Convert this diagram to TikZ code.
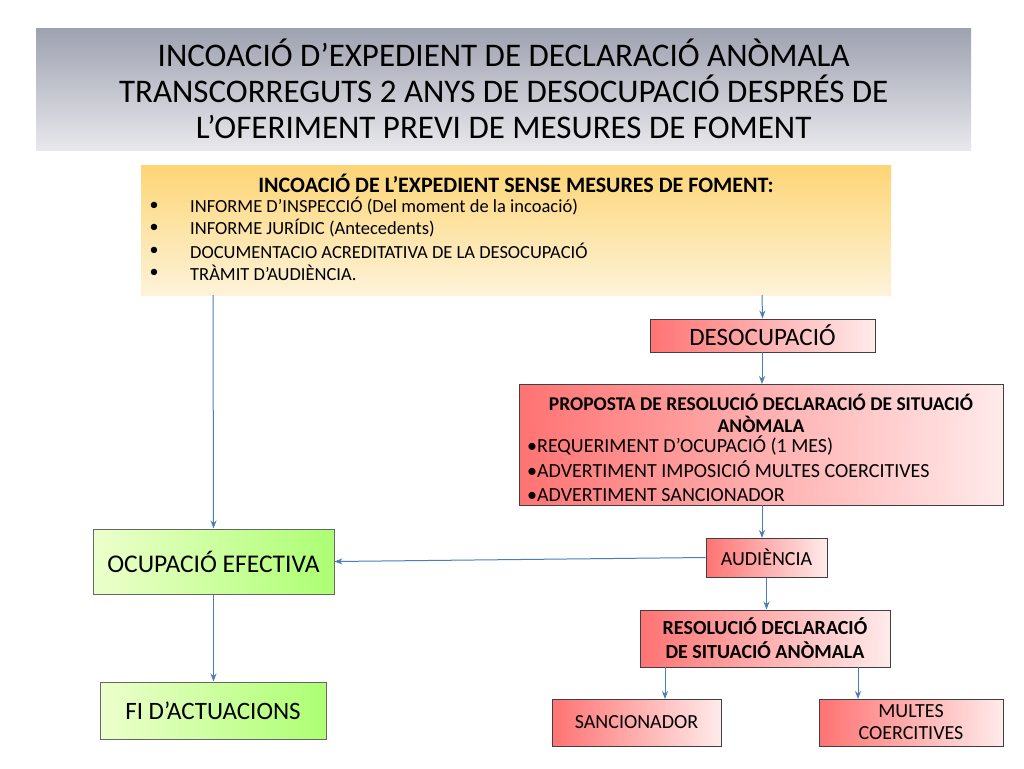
\documentclass[tikz,border=0pt]{standalone}
\usepackage{fontspec}
\setmainfont{Carlito}
\usetikzlibrary{arrows.meta}
\definecolor{arrc}{RGB}{74,126,187}
\definecolor{tgray}{RGB}{158,162,176}
\definecolor{tlight}{RGB}{232,232,236}
\definecolor{ytop}{RGB}{253,213,118}
\definecolor{ybot}{RGB}{253,243,217}
\begin{document}
\begin{tikzpicture}[x=1pt,y=-1pt,
  redbox/.style={draw=black!75,line width=1pt,left color=red!55,right color=red!8,inner sep=2pt,align=center},
  greenbox/.style={draw=black!60,line width=1pt,left color=green!15!lime!20,right color=green!45!lime!55,align=left},
  arr/.style={draw=arrc,line width=1pt,-{Stealth[length=8pt,width=6pt]}}]
\useasboundingbox (0,0) rectangle (1024,768);
\fill[white] (0,0) rectangle (1024,768);
\node (title) [minimum width=935,minimum height=122,anchor=north west,top color=tgray,bottom color=tlight,inner sep=0,align=center,font=\fontsize{33}{36}\selectfont] at (36,28) {INCOACIÓ D’EXPEDIENT DE DECLARACIÓ ANÒMALA\\TRANSCORREGUTS 2 ANYS DE DESOCUPACIÓ DESPRÉS DE\\L’OFERIMENT PREVI DE MESURES DE FOMENT};
\node (yel) [minimum width=750,minimum height=130,anchor=north west,top color=ytop,bottom color=ybot,inner sep=0] at (141,165) {};
\node[font=\bfseries\fontsize{22}{24}\selectfont] at (516,183) {INCOACIÓ DE L’EXPEDIENT SENSE MESURES DE FOMENT:};
\foreach \y/\t in {206/{INFORME D’INSPECCIÓ (Del moment de la incoació)},228/{INFORME JURÍDIC (Antecedents)},251/{DOCUMENTACIO ACREDITATIVA DE LA DESOCUPACIÓ},273/{TRÀMIT D’AUDIÈNCIA.}}{
  \node[font=\fontsize{18}{20}\selectfont] at (154,\y) {•};
  \node[anchor=west,font=\fontsize{18.5}{20}\selectfont,inner sep=0] at (190,\y) {\t};}
\node (deso) [redbox,minimum width=225,minimum height=33,font=\fontsize{25}{28}\selectfont] at (762.5,335.5) {DESOCUPACIÓ};
\node (prop) [redbox,minimum width=484,minimum height=121,anchor=north west] at (519,384) {};
\node[font=\bfseries\fontsize{19.5}{22}\selectfont,align=center] at (761,413) {PROPOSTA DE RESOLUCIÓ DECLARACIÓ DE SITUACIÓ\\ANÒMALA};
\node[anchor=north west,font=\fontsize{20}{24.5}\selectfont,align=left,inner sep=0] at (527,436) {•REQUERIMENT D’OCUPACIÓ (1 MES)\\•ADVERTIMENT IMPOSICIÓ MULTES COERCITIVES\\•ADVERTIMENT SANCIONADOR};
\node (aud) [redbox,minimum width=121,minimum height=39,font=\fontsize{20}{22}\selectfont] at (766.5,557.5) {AUDIÈNCIA};
\node (res) [redbox,minimum width=250,minimum height=57,font=\bfseries\fontsize{20}{24}\selectfont] at (765,638.5) {RESOLUCIÓ DECLARACIÓ\\DE SITUACIÓ ANÒMALA};
\node (san) [redbox,minimum width=169,minimum height=47,font=\fontsize{20}{22}\selectfont] at (636.5,722.5) {SANCIONADOR};
\node (mul) [redbox,minimum width=184,minimum height=47,font=\fontsize{20}{22}\selectfont] at (911,722.5) {MULTES\\COERCITIVES};
\node (ocu) [greenbox,minimum width=241,minimum height=65,font=\fontsize{25.5}{28}\selectfont] at (213.5,561.5) {OCUPACIÓ EFECTIVA};
\node (fi) [greenbox,minimum width=226,minimum height=57,font=\fontsize{25}{28}\selectfont] at (213,710.5) {FI D’ACTUACIONS};
\draw[arr] (213,295) -- (ocu.north);
\draw[arr] (762,295) -- (deso.north);
\draw[arr] (762,352) -- (762,384);
\draw[arr] (762,505) -- (762,538);
\draw[arr] (aud.west) -- (ocu.east);
\draw[arr] (aud.south) -- (res.north -| aud.south);
\draw[arr] (665,667) -- (665,699);
\draw[arr] (858,667) -- (858,699);
\draw[arr] (ocu.south) -- (fi.north -| ocu.south);
\end{tikzpicture}
\end{document}
